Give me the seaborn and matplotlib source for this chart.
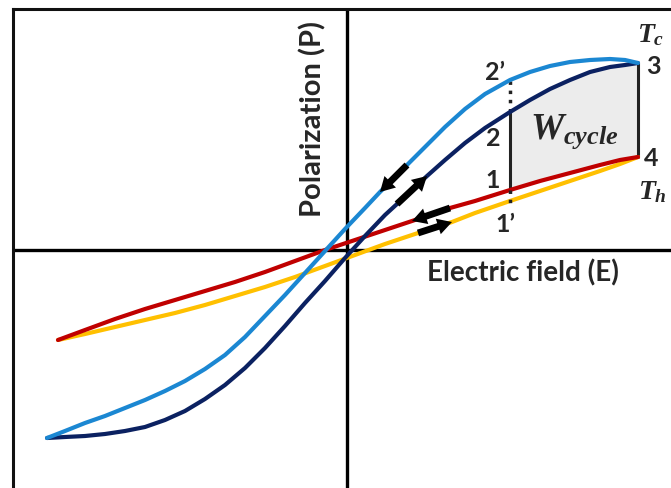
import matplotlib
matplotlib.use('Agg')
import matplotlib.pyplot as plt
import seaborn as sns
import pandas as pd

# electric field E / polarization P (arbitrary units, origin where the axes cross)
# big loop at the cold temperature T_c: upper (blue) and lower (navy) branch
blue_E = [-3.00, -2.82, -2.62, -2.42, -2.22, -2.02, -1.82, -1.62, -1.42, -1.22,
          -1.02, -0.82, -0.62, -0.42, -0.22, -0.02, 0.18, 0.33, 0.60, 0.78,
          0.98, 1.18, 1.38, 1.63, 1.83, 2.03, 2.23, 2.43, 2.63, 2.78, 2.91]
blue_P = [-1.88, -1.81, -1.73, -1.66, -1.58, -1.50, -1.41, -1.31, -1.19, -1.05,
          -0.87, -0.66, -0.45, -0.23, -0.01, 0.21, 0.42, 0.58, 0.85, 1.03,
          1.23, 1.41, 1.56, 1.70, 1.78, 1.84, 1.88, 1.90, 1.91, 1.90, 1.87]
navy_E = [-3.00, -2.82, -2.62, -2.42, -2.22, -2.02, -1.82, -1.62, -1.42, -1.22,
          -1.02, -0.82, -0.62, -0.42, -0.22, -0.02, 0.18, 0.38, 0.50, 0.80,
          0.98, 1.18, 1.38, 1.63, 1.83, 2.03, 2.23, 2.43, 2.63, 2.78, 2.91]
navy_P = [-1.88, -1.87, -1.86, -1.84, -1.81, -1.77, -1.70, -1.61, -1.49, -1.35,
          -1.18, -0.98, -0.76, -0.53, -0.31, -0.08, 0.14, 0.35, 0.46, 0.74,
          0.90, 1.07, 1.22, 1.38, 1.50, 1.61, 1.70, 1.78, 1.83, 1.85, 1.87]
# small loop at the hot temperature T_h: upper (red) and lower (yellow) branch
red_E = [-2.89, -2.62, -2.32, -2.02, -1.72, -1.42, -1.12, -0.82, -0.52, -0.22,
         0.08, 0.38, 0.65, 1.03, 1.28, 1.63, 1.93, 2.23, 2.53, 2.73, 2.91]
red_P = [-0.90, -0.80, -0.69, -0.59, -0.50, -0.41, -0.32, -0.22, -0.11, 0.00,
         0.10, 0.20, 0.29, 0.42, 0.49, 0.60, 0.69, 0.77, 0.85, 0.90, 0.93]
yellow_E = [-2.89, -2.62, -2.32, -2.02, -1.72, -1.42, -1.12, -0.82, -0.52, -0.22,
            0.08, 0.38, 0.71, 1.05, 1.28, 1.63, 1.93, 2.23, 2.53, 2.73, 2.91]
yellow_P = [-0.90, -0.84, -0.77, -0.70, -0.63, -0.55, -0.46, -0.37, -0.27, -0.16,
            -0.05, 0.06, 0.17, 0.28, 0.37, 0.49, 0.59, 0.69, 0.79, 0.86, 0.93]

colors = {'yellow': '#ffc000', 'red': '#c00000', 'navy': '#0b2161', 'blue': '#1b87d2'}

parts = []
for name, e, p in [('yellow', yellow_E, yellow_P), ('red', red_E, red_P),
                   ('navy', navy_E, navy_P), ('blue', blue_E, blue_P)]:
    parts.append(pd.DataFrame({'E': e, 'P': p, 'branch': name}))
df = pd.concat(parts, ignore_index=True)

sns.set_style('white')
plt.rcParams['font.family'] = ['Lato', 'DejaVu Sans']
plt.rcParams['mathtext.fontset'] = 'custom'
plt.rcParams['mathtext.it'] = 'Liberation Serif:italic:bold'
plt.rcParams['mathtext.rm'] = 'Liberation Serif:bold'

fig = plt.figure(figsize=(6.71, 4.88), dpi=100)
ax = fig.add_axes([13 / 671, 0, 658 / 671, 479 / 488])
ax.set_xlim(-3.34, 3.24)
ax.set_ylim(-2.38, 2.41)
for s in ['right', 'bottom']:
    ax.spines[s].set_visible(False)
for s in ['left', 'top']:
    ax.spines[s].set_linewidth(2.2)
    ax.spines[s].set_color('#111111')
ax.set_xticks([])
ax.set_yticks([])

ax.axhline(0, color='black', lw=2.4, zorder=1.5)
ax.axvline(0, color='black', lw=2.4, zorder=1.5)

# W_cycle area: navy from 2 to 3, red from 4 back to 1
i2 = navy_E.index(1.63)
i1 = red_E.index(1.63)
poly_E = navy_E[i2:] + red_E[i1:][::-1]
poly_P = navy_P[i2:] + red_P[i1:][::-1]
ax.fill(poly_E, poly_P, color='#ececec', lw=0, zorder=1)

sns.lineplot(data=df, x='E', y='P', hue='branch', palette=colors, sort=False,
             estimator=None, lw=3, legend=False, ax=ax, zorder=3)
ax.set_xlabel('')
ax.set_ylabel('')

# vertical legs of the cycle
ax.plot([1.63, 1.63], [red_P[i1], navy_P[i2]], color='#222222', lw=2.2, zorder=2)
ax.plot([1.63, 1.63], [navy_P[i2], blue_P[blue_E.index(1.63)]], color='#222222',
        lw=2.5, ls=':', zorder=2)
ax.plot([1.63, 1.63], [red_P[i1], yellow_P[yellow_E.index(1.63)] - 0.06],
        color='#222222', lw=2.5, ls=':', zorder=4)
ax.plot([2.91, 2.91], [red_P[-1], navy_P[-1]], color='#222222', lw=2.2, zorder=2)

# direction arrows along each branch (tail E, head E)
arrows = [(blue_E, blue_P, 0.60, 0.33), (navy_E, navy_P, 0.50, 0.80),
          (red_E, red_P, 1.03, 0.65), (yellow_E, yellow_P, 0.71, 1.05)]
for e, p, a, b in arrows:
    ia, ib = e.index(a), e.index(b)
    ax.annotate('', xy=(e[ib], p[ib]), xytext=(e[ia], p[ia]),
                arrowprops=dict(arrowstyle='simple,head_width=0.9,head_length=0.8,tail_width=0.38',
                                color='black', lw=0, shrinkA=0, shrinkB=0,
                                mutation_scale=13), zorder=5)

lab = dict(fontsize=18, fontweight='bold', ha='center', va='center')
ax.text(1.48, 1.78, '2\u2019', **lab)
ax.text(1.46, 1.12, '2', **lab)
ax.text(1.46, 0.70, '1', **lab)
ax.text(1.58, 0.26, '1\u2019', **lab)
ax.text(3.06, 1.84, '3', **lab)
ax.text(3.04, 0.91, '4', **lab)
ax.text(3.04, 2.15, r'$T_c$', fontsize=20, ha='center', va='center')
ax.text(3.05, 0.58, r'$T_h$', fontsize=20, ha='center', va='center')
ax.text(2.27, 1.18, r'$W_{cycle}$', fontsize=27, ha='center', va='center')

ax.text(-0.34, 1.31, 'Polarization (P)', fontsize=21, fontweight='bold',
        rotation=90, ha='center', va='center')
ax.text(1.76, -0.23, 'Electric field (E)', fontsize=20, fontweight='bold',
        ha='center', va='center')

fig.savefig('out.png', dpi=100)
